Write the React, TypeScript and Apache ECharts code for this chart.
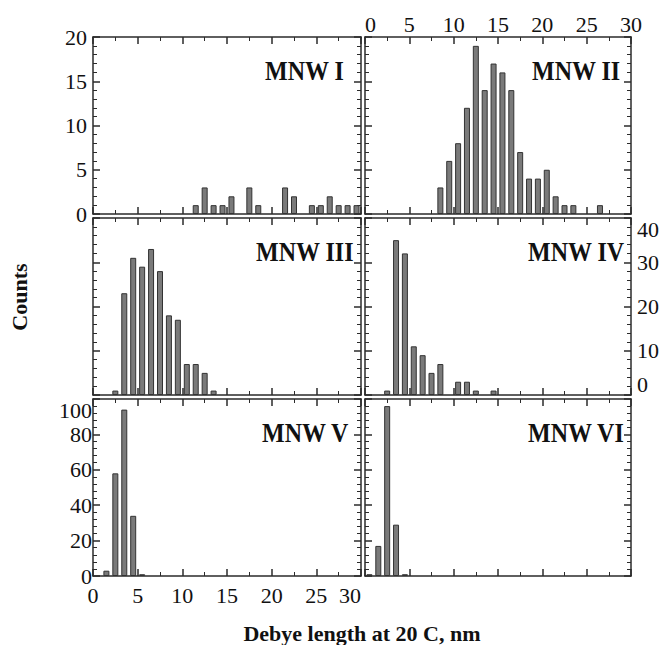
import React, { useEffect, useRef } from "react";
import * as echarts from "echarts";

// ---- data (counts per 1 nm bin, bin k covers [k, k+1]) ----
const panelNames = ["MNW I", "MNW II", "MNW III", "MNW IV", "MNW V", "MNW VI"];
const countsI = [0, 0, 0, 0, 0, 0, 0, 0, 0, 0, 0, 1, 3, 1, 1, 2, 0, 3, 1, 0, 0, 3, 2, 0, 1, 1, 2, 1, 1, 1];
const countsII = [0, 0, 0, 0, 0, 0, 0, 0, 3, 6, 8, 12, 19, 14, 17, 16, 14, 7, 4, 4, 5, 2, 1, 1, 0, 0, 1];
const countsIII = [0, 0, 1, 23, 31, 29, 33, 28, 18, 17, 7, 7, 5, 1];
const countsIV = [0, 0, 1, 35, 32, 11, 9, 5, 7, 0, 3, 3, 1, 0, 1];
const countsV = [0, 3, 58, 94, 34, 1];
const countsVI = [1, 17, 96, 29, 1];
const allCounts = [countsI, countsII, countsIII, countsIV, countsV, countsVI];
const xMin = 0;
const xMax = 30;
const xInterval = 5;
const yMaxes = [20, 20, 40, 40, 100, 100];
const yIntervals = [5, 5, 10, 10, 20, 20];
const xTitle = "Debye length at 20 C, nm";
const yTitle = "Counts";

// ---- layout ----
const grids = [
  { left: 93, top: 37, width: 268, height: 177 },
  { left: 365, top: 37, width: 266, height: 177 },
  { left: 93, top: 218, width: 268, height: 177 },
  { left: 365, top: 218, width: 266, height: 177 },
  { left: 93, top: 399, width: 268, height: 177 },
  { left: 365, top: 399, width: 266, height: 177 },
];
const nameX = [265, 532, 256, 528, 262, 528];

const FONT = "'Liberation Serif', 'DejaVu Serif', serif";
const axisColor = "#2b2b2b";

function buildOption() {
  const lineStyle = { color: axisColor, width: 1.5 };
  const xAxes: any[] = [];
  const yAxes: any[] = [];
  const series: any[] = [];
  const graphics: any[] = [];

  for (let i = 0; i < 6; i++) {
    for (const pos of ["bottom", "top"]) {
      const showLabel = (i === 4 && pos === "bottom") || (i === 1 && pos === "top");
      xAxes.push({
        type: "value",
        gridIndex: i,
        position: pos,
        min: xMin,
        max: xMax,
        interval: xInterval,
        axisLine: { show: true, onZero: false, lineStyle },
        axisTick: { show: true, inside: true, length: 7, lineStyle },
        minorTick: { show: true, splitNumber: 2, length: 4, lineStyle: { color: axisColor, width: 1 } },
        splitLine: { show: false },
        minorSplitLine: { show: false },
        axisLabel: {
          show: showLabel,
          fontFamily: FONT,
          fontSize: 22,
          color: "#111",
          margin: pos === "top" ? 2 : 8,
          alignMaxLabel: i === 4 ? "right" : undefined,
          alignMinLabel: i === 1 ? "left" : undefined,
        },
      });
    }
    for (const pos of ["left", "right"]) {
      const showLabel = (i === 0 && pos === "left") || (i === 3 && pos === "right") || (i === 4 && pos === "left");
      const axisLabel: any = {
        show: showLabel,
        fontFamily: FONT,
        fontSize: 22,
        color: "#111",
        margin: i === 4 ? 1 : 6,
      };
      if (i === 3 || i === 4) axisLabel.verticalAlignMaxLabel = "top";
      if (i === 3) axisLabel.verticalAlignMinLabel = "bottom";
      yAxes.push({
        type: "value",
        gridIndex: i,
        position: pos,
        min: 0,
        max: yMaxes[i],
        interval: yIntervals[i],
        axisLine: { show: true, onZero: false, lineStyle },
        axisTick: { show: true, inside: true, length: 7, lineStyle },
        minorTick: { show: true, splitNumber: 5, length: 4, lineStyle: { color: axisColor, width: 1 } },
        splitLine: { show: false },
        minorSplitLine: { show: false },
        axisLabel,
      });
    }
    const data = allCounts[i]
      .map((c, k) => [k + 0.5, c])
      .filter((d) => d[1] > 0);
    series.push({
      type: "bar",
      name: panelNames[i],
      xAxisIndex: i * 2,
      yAxisIndex: i * 2,
      data,
      barWidth: 6,
      itemStyle: { color: "#7a7a7a", borderColor: "#333", borderWidth: 1 },
    });
    graphics.push({
      type: "text",
      x: nameX[i],
      y: grids[i].top + 34,
      scaleY: 1.12,
      style: {
        text: panelNames[i],
        font: `bold 24px ${FONT}`,
        fill: "#111",
        verticalAlign: "middle",
      },
      z: 10,
    });
  }

  graphics.push({
    type: "text",
    x: 362,
    y: 633,
    style: {
      text: xTitle,
      font: `bold 22px ${FONT}`,
      fill: "#111",
      align: "center",
      verticalAlign: "middle",
    },
  });
  graphics.push({
    type: "text",
    x: 19,
    y: 297,
    rotation: Math.PI / 2,
    style: {
      text: yTitle,
      font: `bold 22px ${FONT}`,
      fill: "#111",
      align: "center",
      verticalAlign: "middle",
    },
  });

  return {
    animation: false,
    backgroundColor: "#fff",
    grid: grids.map((g) => ({ ...g, containLabel: false })),
    xAxis: xAxes,
    yAxis: yAxes,
    series,
    graphic: graphics,
  };
}

export default function App() {
  const ref = useRef<HTMLDivElement>(null);
  useEffect(() => {
    document.body.style.margin = "0";
    const chart = echarts.init(ref.current!, null, { renderer: "svg" });
    chart.setOption(buildOption());
    return () => chart.dispose();
  }, []);
  return <div ref={ref} style={{ width: 665, height: 645, background: "#fff" }} />;
}
